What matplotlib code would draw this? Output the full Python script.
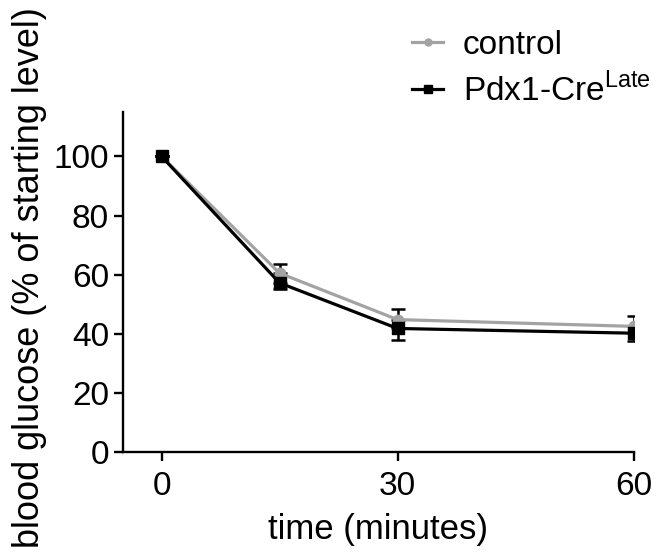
import numpy as np
import matplotlib.pyplot as plt
from matplotlib.lines import Line2D

plt.rcParams['font.family'] = ['Liberation Sans', 'DejaVu Sans']

# time points (minutes)
time = [0, 15, 30, 60]

# blood glucose, % of starting level
control = [100, 60.5, 44.8, 42.5]
control_err = [0, 3.2, 3.7, 3.5]
pdx1 = [100, 57.2, 41.8, 40.2]
pdx1_err = [0, 2.0, 3.9, 2.6]

x_ticks = [0, 30, 60]
y_ticks = [0, 20, 40, 60, 80, 100]

gray = '#a3a3a3'

fig = plt.figure(figsize=(6.67, 5.54), dpi=100)
ax = fig.add_axes([0.1844, 0.184, 0.7661, 0.6138])

# control: error bar above only
ax.errorbar(time, control, yerr=[np.zeros(len(control_err)), control_err],
            color=gray, lw=2.3, marker='o', ms=7.5, mfc=gray, mec=gray,
            ecolor='black', elinewidth=1.8, capsize=4.7, capthick=1.8, zorder=2)
# Pdx1-Cre late: error bar below only
ax.errorbar(time, pdx1, yerr=[pdx1_err, np.zeros(len(pdx1_err))],
            color='black', lw=2.3, marker='s', ms=8.5, mfc='black', mec='black',
            ecolor='black', elinewidth=1.8, capsize=4.7, capthick=1.8, zorder=3)

ax.set_xlim(-4.9, 60.05)
ax.set_ylim(0, 115)
ax.set_xticks(x_ticks)
ax.set_yticks(y_ticks)

for side in ['top', 'right']:
    ax.spines[side].set_visible(False)
for side in ['left', 'bottom']:
    ax.spines[side].set_linewidth(1.7)

ax.tick_params(axis='both', labelsize=24, width=1.7, length=6.5, direction='out')
ax.tick_params(axis='x', pad=7)
ax.tick_params(axis='y', pad=3.6)

ax.set_xlabel('time (minutes)', fontsize=25, labelpad=8)
ax.set_ylabel('blood glucose (% of starting level)', fontsize=26, labelpad=5)
ax.yaxis.label.set_y(0.512)

handles = [
    Line2D([], [], color=gray, lw=2.3, marker='o', ms=5, mfc=gray, mec=gray),
    Line2D([], [], color='black', lw=2.3, marker='s', ms=6, mfc='black', mec='black'),
]
labels = ['control', r'Pdx1-Cre$^{\mathregular{Late}}$']
fig.legend(handles, labels, loc='upper left', bbox_to_anchor=(0.6177, 0.946),
           frameon=False, fontsize=24, handlelength=0.93, handletextpad=0.59,
           labelspacing=0.35, borderpad=0, borderaxespad=0)

fig.savefig('out.png', dpi=100)
